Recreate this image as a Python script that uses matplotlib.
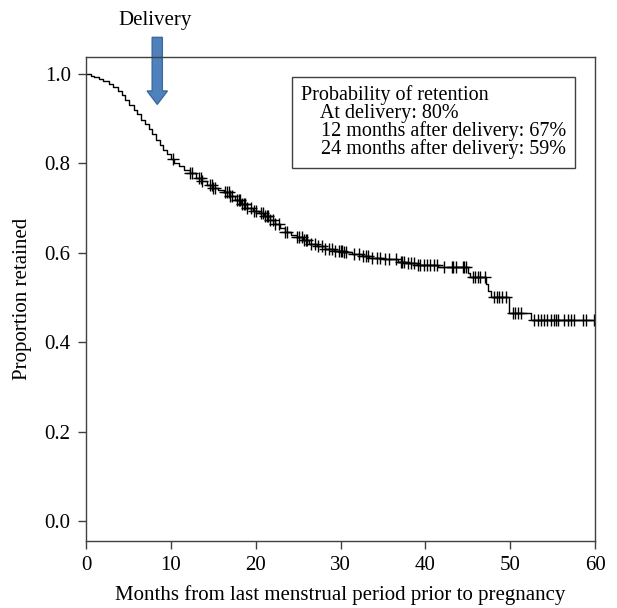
import numpy as np
import matplotlib
matplotlib.use("Agg")
import matplotlib.pyplot as plt
from matplotlib.patches import FancyArrow

plt.rcParams['font.family'] = ['Liberation Serif', 'DejaVu Serif']

# Kaplan-Meier step curve (time in months, survival proportion)
step_t = [0, 0.6, 1.0, 1.5, 2.0, 2.7, 3.2, 3.8, 4.2, 4.6, 5.1, 5.6, 6.0, 6.5, 7.0, 7.4,
          7.8, 8.3, 8.7, 9.1, 9.5, 10.0, 10.4, 11.0, 11.6, 12.3, 13.0, 13.6, 14.3, 14.9,
          15.6, 16.3, 17.0, 17.6, 18.3, 19.0, 19.7, 20.4, 21.0, 21.7, 22.3, 22.9, 23.5,
          24.2, 24.9, 25.6, 26.3, 27.2, 28.2, 29.2, 30.4, 31.4, 32.5, 33.4, 35.0, 36.8,
          37.6, 39.0, 41.5, 45.0, 45.3, 47.1, 47.4, 47.7, 49.9, 52.5]
step_s = [1.0, 0.996, 0.993, 0.989, 0.984, 0.978, 0.97, 0.962, 0.952, 0.942, 0.93, 0.92,
          0.91, 0.898, 0.888, 0.878, 0.866, 0.852, 0.842, 0.83, 0.82, 0.81, 0.80, 0.793,
          0.785, 0.778, 0.768, 0.76, 0.752, 0.745, 0.74, 0.736, 0.728, 0.718, 0.71, 0.70,
          0.694, 0.688, 0.682, 0.673, 0.664, 0.655, 0.647, 0.64, 0.635, 0.628, 0.62, 0.614,
          0.609, 0.605, 0.601, 0.597, 0.593, 0.589, 0.586, 0.58, 0.576, 0.572, 0.568, 0.555,
          0.545, 0.53, 0.515, 0.50, 0.465, 0.45]
end_t = 60.0

# censoring times (months)
censor_t = [10.3, 12.3, 12.5, 13.3, 13.5, 13.7, 14.6, 14.8, 15.0, 15.2, 16.4, 16.6, 16.8,
            17.0, 17.2, 17.8, 18.0, 18.2, 18.4, 18.6, 18.8, 19.0, 19.4, 19.8, 20.0, 20.6,
            20.9, 21.1, 21.3, 21.5, 21.7, 22.1, 22.3, 22.7, 23.5, 23.7, 24.9, 25.1, 25.5,
            25.7, 25.9, 26.1, 26.5, 27.0, 27.4, 27.8, 28.2, 28.6, 29.0, 29.4, 29.8, 30.0,
            30.2, 30.4, 30.6, 31.6, 32.2, 32.6, 33.0, 33.3, 33.7, 34.3, 34.7, 35.3, 35.7,
            36.5, 37.1, 37.3, 37.5, 37.9, 38.3, 38.7, 39.1, 39.4, 39.8, 40.2, 40.6, 41.0,
            41.4, 42.2, 43.2, 43.3, 43.6, 44.4, 44.5, 44.8, 45.6, 45.8, 46.2, 46.5, 47.0,
            48.1, 48.4, 48.7, 49.0, 49.5, 50.3, 50.6, 50.9, 51.3, 52.8, 53.3, 53.6, 54.0,
            54.4, 54.8, 55.2, 55.4, 55.6, 56.3, 56.8, 57.2, 57.5, 58.6, 58.9, 59.9]

x_ticks = [0, 10, 20, 30, 40, 50, 60]
y_ticks = [0.0, 0.2, 0.4, 0.6, 0.8, 1.0]
legend_lines = ["Probability of retention",
                "    At delivery: 80%",
                "    12 months after delivery: 67%",
                "    24 months after delivery: 59%"]
delivery_month = 8.4

FS = 15

fig = plt.figure(figsize=(6.17, 6.08), dpi=100)
ax = fig.add_axes([86/617, 1-541/608, (595-86)/617, (541-57)/608])

t_plot = list(step_t) + [end_t]
s_plot = list(step_s) + [step_s[-1]]
ax.step(t_plot, s_plot, where='post', color='black', lw=1.0)

idx = np.searchsorted(step_t, censor_t, side='right') - 1
cs = np.array(step_s)[idx]
ax.plot(censor_t, cs, linestyle='none', marker='+', color='black', ms=8, mew=1.0)

ax.set_xlim(0, 60)
ax.set_ylim(-0.045, 1.038)
ax.set_xticks(x_ticks)
ax.set_xticklabels([str(v) for v in x_ticks])
ax.set_yticks(y_ticks)
ax.set_yticklabels([f"{v:.1f}" for v in y_ticks])
for sp in ax.spines.values():
    sp.set_color('#404040')
    sp.set_linewidth(1.0)
ax.tick_params(direction='out', length=6, width=1.0, color='#404040', labelsize=FS, pad=5)

ax.set_xlabel("Months from last menstrual period prior to pregnancy", fontsize=FS, labelpad=7)
ax.set_ylabel("Proportion retained", fontsize=FS, labelpad=9)

ax.text(0.422, 0.942, "\n".join(legend_lines), transform=ax.transAxes, fontsize=14.5,
        va='top', ha='left', linespacing=0.9,
        bbox=dict(boxstyle='square,pad=0.42', facecolor='white', edgecolor='#404040', lw=1.0))

# Delivery arrow
arr = FancyArrow(delivery_month, 1.082, 0, -0.15, width=1.2,
                 head_width=2.4, head_length=0.03, length_includes_head=True,
                 facecolor='#4f81bd', edgecolor='#3a6a9e', lw=1.0, clip_on=False,
                 transform=ax.transData)
ax.add_patch(arr)
ax.text(delivery_month - 0.3, 1.12, "Delivery", ha='center', va='center', fontsize=FS,
        transform=ax.transData, clip_on=False)

fig.savefig("out.png", dpi=100)
